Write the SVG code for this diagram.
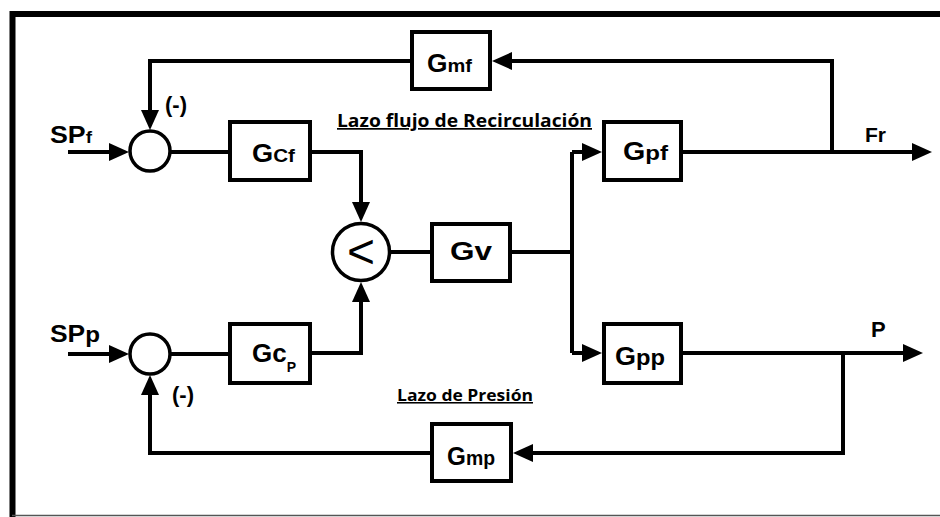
<svg xmlns="http://www.w3.org/2000/svg" width="940" height="517" viewBox="0 0 940 517">
<style>
.blk{fill:#fff;stroke:#000;stroke-width:4}
.sum{fill:#fff;stroke:#000;stroke-width:3.5}
.wire{fill:none;stroke:#000;stroke-width:4;stroke-linejoin:miter}
.arr{marker-end:url(#ah)}
.lbl{font-family:"Liberation Sans",Arial,sans-serif;font-weight:bold;fill:#000}
.cap{font-family:"Open Sans","Liberation Sans",sans-serif;font-weight:bold;fill:#000;text-decoration:underline}
</style>
<defs>
<marker id="ah" viewBox="0 0 20 18" refX="10" refY="9" markerWidth="20" markerHeight="18" markerUnits="userSpaceOnUse" orient="auto">
<path d="M0,0 L20,9 L0,18 z" fill="#000"/>
</marker>
</defs>
<rect width="940" height="517" fill="#fff"/>
<g id="frame">
<path d="M12.5,517 V14 H940" fill="none" stroke="#000" stroke-width="6"/>
<line x1="12" y1="515.5" x2="940" y2="515.5" stroke="#555" stroke-width="1.5"/>
</g>
<g id="connectors">
<path class="wire arr" d="M832,152 V61 H502"/>
<path class="wire arr" d="M410,61 H150 V120"/>
<path class="wire arr" d="M68,152 H119"/>
<path class="wire" d="M171,152 H228"/>
<path class="wire arr" d="M312,152 H361 V212"/>
<path class="wire arr" d="M68,354 H119"/>
<path class="wire" d="M171,354 H228"/>
<path class="wire arr" d="M312,353 H361 V292"/>
<path class="wire" d="M390,252 H430"/>
<path class="wire" d="M512,252 H572"/>
<path class="wire" d="M572,152 V353"/>
<path class="wire arr" d="M572,152 H592"/>
<path class="wire arr" d="M572,353 H592"/>
<path class="wire arr" d="M683,152 H922"/>
<path class="wire arr" d="M683,353 H913"/>
<path class="wire arr" d="M843,353 V453 H523"/>
<path class="wire arr" d="M430,453 H150 V385"/>
</g>
<g id="sum_f"><circle class="sum" cx="150" cy="151" r="20"/></g>
<g id="sum_p"><circle class="sum" cx="150" cy="354" r="20"/></g>
<g id="selector">
<circle class="sum" cx="361" cy="252" r="28.5"/>
<text x="361" y="268" text-anchor="middle" font-family="Liberation Sans,Arial,sans-serif" font-size="48" fill="#000">&lt;</text>
</g>
<g id="Gmf">
<rect class="blk" x="412" y="32" width="78" height="57"/>
<text class="lbl" x="427" y="72" textLength="45" lengthAdjust="spacingAndGlyphs"><tspan font-size="25">G</tspan><tspan font-size="19">mf</tspan></text>
</g>
<g id="Gcf">
<rect class="blk" x="230" y="122" width="80" height="58"/>
<text class="lbl" x="252" y="162" textLength="43" lengthAdjust="spacingAndGlyphs"><tspan font-size="25">G</tspan><tspan font-size="19">Cf</tspan></text>
</g>
<g id="Gcp">
<rect class="blk" x="230" y="324" width="80" height="59"/>
<text class="lbl" x="252" y="362"><tspan font-size="26">Gc</tspan><tspan font-size="14" dy="10">P</tspan></text>
</g>
<g id="Gv">
<rect class="blk" x="432" y="224" width="78" height="57"/>
<text class="lbl" x="450" y="260" font-size="25" textLength="42" lengthAdjust="spacingAndGlyphs">Gv</text>
</g>
<g id="Gpf">
<rect class="blk" x="604" y="122" width="77" height="58"/>
<text class="lbl" x="623" y="160" textLength="45" lengthAdjust="spacingAndGlyphs"><tspan font-size="25">G</tspan><tspan font-size="21">pf</tspan></text>
</g>
<g id="Gpp">
<rect class="blk" x="604" y="324" width="77" height="59"/>
<text class="lbl" x="615" y="365" textLength="50" lengthAdjust="spacingAndGlyphs"><tspan font-size="25">G</tspan><tspan font-size="22">pp</tspan></text>
</g>
<g id="Gmp">
<rect class="blk" x="432" y="424" width="79" height="57"/>
<text class="lbl" x="447" y="465" textLength="48" lengthAdjust="spacingAndGlyphs"><tspan font-size="25">G</tspan><tspan font-size="20">mp</tspan></text>
</g>
<g id="labels">
<text class="lbl" x="50" y="143" textLength="42" lengthAdjust="spacingAndGlyphs"><tspan font-size="24">SP</tspan><tspan font-size="17">f</tspan></text>
<text class="lbl" x="50" y="342" textLength="50" lengthAdjust="spacingAndGlyphs"><tspan font-size="24">SP</tspan><tspan font-size="22">p</tspan></text>
<text class="lbl" x="165" y="112" font-size="22">(-)</text>
<text class="lbl" x="172" y="402" font-size="22">(-)</text>
<text class="lbl" x="865" y="142" font-size="21">Fr</text>
<text class="lbl" x="871" y="337" font-size="22">P</text>
<text class="cap" x="337" y="127" font-size="17" textLength="255" lengthAdjust="spacingAndGlyphs">Lazo flujo de Recirculación</text>
<text class="cap" x="397" y="401" font-size="15.5" textLength="136" lengthAdjust="spacingAndGlyphs">Lazo de Presión</text>
</g>
</svg>
